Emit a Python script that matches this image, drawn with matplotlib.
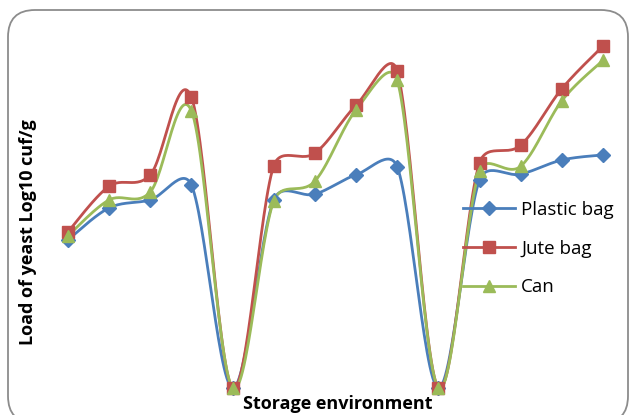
import numpy as np
import matplotlib
matplotlib.use('Agg')
import matplotlib.pyplot as plt
from matplotlib.patches import FancyBboxPatch
from matplotlib.transforms import IdentityTransform

# storage points (3 environments x 4 times, with a drop to zero between them)
points = list(range(14))
plastic = [2.60, 3.16, 3.30, 3.56, 0, 3.30, 3.40, 3.74, 3.88, 0, 3.65, 3.75, 4.00, 4.09]
jute = [2.74, 3.54, 3.74, 5.10, 0, 3.90, 4.12, 4.96, 5.56, 0, 3.95, 4.26, 5.25, 6.00]
can = [2.67, 3.30, 3.44, 4.86, 0, 3.28, 3.63, 4.88, 5.40, 0, 3.81, 3.89, 5.04, 5.75]

series = [('Plastic bag', plastic, '#4A7EBB', 'D', 7),
          ('Jute bag', jute, '#C0504D', 's', 8),
          ('Can', can, '#9BBB59', '^', 9)]

YSC = 57 / 41.15  # y unit vs x unit on screen, for the smoothing


def smooth(x, y, n=30):
    # excel-like smoothed line: bezier segments, control arms capped at half segment
    x = np.asarray(x, float)
    y = np.asarray(y, float) * YSC
    P = np.column_stack([x, y])
    m = len(P)
    xs, ys = [], []
    for i in range(m - 1):
        p0, p1, p2, p3 = P[max(i - 1, 0)], P[i], P[i + 1], P[min(i + 2, m - 1)]
        seg = np.linalg.norm(p2 - p1)
        a1 = (p2 - p0) / 6
        a2 = (p3 - p1) / 6
        if np.linalg.norm(a1) > seg / 2:
            a1 = a1 / np.linalg.norm(a1) * seg / 2
        if np.linalg.norm(a2) > seg / 2:
            a2 = a2 / np.linalg.norm(a2) * seg / 2
        c1 = p1 + a1
        c2 = p2 - a2
        t = np.linspace(0, 1, n)[:, None]
        b = (1 - t) ** 3 * p1 + 3 * (1 - t) ** 2 * t * c1 + 3 * (1 - t) * t ** 2 * c2 + t ** 3 * p2
        xs.extend(b[:, 0])
        ys.extend(b[:, 1] / YSC)
    return xs, ys


fig = plt.figure(figsize=(6.3, 4.15), dpi=100)
ax = fig.add_axes([68 / 630, 1 - 388 / 415, (603 - 68) / 630, (388 - 46) / 415])

for name, vals, col, mk, ms in series:
    sx, sy = smooth(points, vals)
    ax.plot(sx, sy, color=col, lw=2.0, clip_on=False, zorder=2)
    ax.plot(points, vals, ls='none', marker=mk, ms=ms, color=col, clip_on=False, zorder=3)
    ax.plot([], [], color=col, lw=2.0, marker=mk, ms=ms, label=name)

ax.set_xlim(0, 13)
ax.set_ylim(0, 6)
ax.axis('off')

leg = ax.legend(loc='upper left', bbox_to_anchor=(446 / 630, 1 - 184 / 415),
                bbox_transform=fig.transFigure, frameon=False,
                handlelength=2.8, labelspacing=1.1, handletextpad=0.3,
                prop={'family': 'Open Sans', 'size': 13.5})

fig.text(28 / 630, 1 - 232 / 415, 'Load of yeast Log10 cuf/g', rotation=90,
         ha='center', va='center', fontsize=13, fontweight='bold', family='Open Sans')
fig.text(338 / 630, 1 - 404 / 415, 'Storage environment', ha='center', va='center',
         fontsize=13, fontweight='bold', family='Open Sans')

# rounded chart-area border, in pixels (bottom edge falls just outside the image)
frame = FancyBboxPatch((8, -8), 620, 413, boxstyle='round,pad=0,rounding_size=27',
                       transform=IdentityTransform(), fill=False, ec='#8C8C8C', lw=1.3)
fig.patches.append(frame)

fig.savefig('out.png', dpi=100)
